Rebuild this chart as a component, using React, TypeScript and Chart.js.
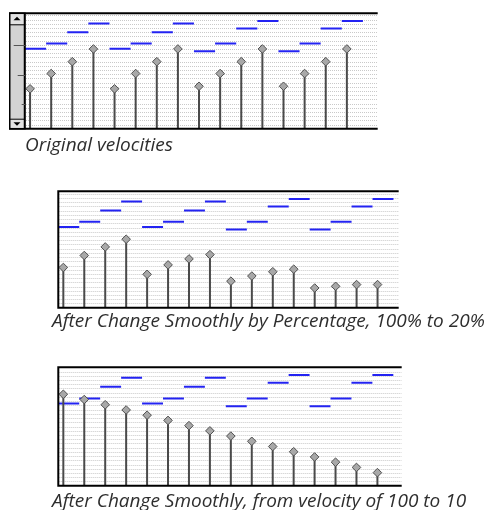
import React, { useEffect, useRef } from "react";
import { Chart, registerables } from "chart.js";

Chart.register(...registerables);

// ---- data ----
const noteStarts = [0, 1, 2, 3, 4, 5, 6, 7, 8, 9, 10, 11, 12, 13, 14, 15];
const notePitches = [70, 72, 76.5, 80, 70, 72, 76.5, 80, 69, 72, 78, 81, 69, 72, 78, 81];
const originalVelocities = [42, 60, 74, 89, 42, 60, 74, 89, 45, 60, 74, 89, 45, 60, 74, 89];
const percentVelocities = [42, 56, 66, 75, 34, 45, 52, 57, 26, 32, 37, 40, 18, 20, 22, 22];
const smoothVelocities = [100, 94, 88, 82, 76, 70, 64, 58, 52, 46, 40, 34, 28, 22, 16, 10];
const captions = [
  "Original velocities",
  "After Change Smoothly by Percentage, 100% to 20%",
  "After Change Smoothly, from velocity of 100 to 10",
];

const STEM_OFFSET = 0.24;
const V_MIN = -5;
const V_MAX = 131;

const gridPlugin = {
  id: "dotgrid",
  beforeDatasetsDraw(chart: any) {
    const { ctx, chartArea: ca } = chart;
    const g = chart.scales.g;
    ctx.save();
    ctx.strokeStyle = "#c9c9c9";
    ctx.lineWidth = 1;
    ctx.setLineDash([1, 1]);
    ctx.beginPath();
    for (let v = 1; v < g.max; v++) {
      const y = Math.round(g.getPixelForValue(v)) + 0.5;
      ctx.moveTo(ca.left + 1, y);
      ctx.lineTo(ca.right, y);
    }
    ctx.stroke();
    ctx.restore();
  },
};

const framePlugin = {
  id: "frame",
  afterDraw(chart: any) {
    const { ctx, chartArea: ca } = chart;
    const opts = chart.options.plugins.frame || {};
    ctx.save();
    ctx.strokeStyle = "#000";
    ctx.lineWidth = 2;
    ctx.beginPath();
    ctx.moveTo(ca.left - (opts.scrollbar ? 16 : 1), ca.top);
    ctx.lineTo(ca.right, ca.top);
    ctx.moveTo(ca.left - (opts.scrollbar ? 16 : 1), ca.bottom);
    ctx.lineTo(ca.right, ca.bottom);
    if (!opts.scrollbar) {
      ctx.moveTo(ca.left, ca.top);
      ctx.lineTo(ca.left, ca.bottom);
    }
    ctx.stroke();
    if (opts.scrollbar) {
      const L = ca.left - 16;
      const R = ca.left;
      const T = ca.top;
      const B = ca.bottom;
      ctx.fillStyle = "#d3d3d3";
      ctx.fillRect(L, T, R - L, B - T);
      ctx.fillStyle = "#e2e2e2";
      ctx.fillRect(L, T, R - L, 11);
      ctx.fillRect(L, B - 10, R - L, 10);
      ctx.lineWidth = 1;
      ctx.strokeStyle = "#000";
      ctx.beginPath();
      ctx.moveTo(L, T + 11.5);
      ctx.lineTo(R, T + 11.5);
      ctx.moveTo(L, B - 9.5);
      ctx.lineTo(R, B - 9.5);
      ctx.stroke();
      ctx.lineWidth = 1.5;
      ctx.strokeRect(L + 0.75, T, R - L - 0.75, B - T);
      ctx.beginPath();
      ctx.moveTo(R - 0.5, T);
      ctx.lineTo(R - 0.5, B);
      ctx.stroke();
      ctx.fillStyle = "#000";
      const cx = L + 8;
      ctx.beginPath();
      ctx.moveTo(cx - 3.5, T + 7);
      ctx.lineTo(cx + 3.5, T + 7);
      ctx.lineTo(cx, T + 3.5);
      ctx.closePath();
      ctx.fill();
      ctx.beginPath();
      ctx.moveTo(cx - 3.5, B - 6.5);
      ctx.lineTo(cx + 3.5, B - 6.5);
      ctx.lineTo(cx, B - 3);
      ctx.closePath();
      ctx.fill();
      ctx.strokeStyle = "#555";
      ctx.lineWidth = 1;
      const marks = [
        [31.8, 11.3],
        [61.2, 7.3],
        [90.5, 3.3],
      ];
      ctx.beginPath();
      marks.forEach(([dy, len]) => {
        ctx.moveTo(R - len, Math.round(T + dy) + 0.5);
        ctx.lineTo(R, Math.round(T + dy) + 0.5);
      });
      ctx.stroke();
    }
    ctx.restore();
  },
};

type PanelProps = {
  velocities: number[];
  left: number;
  top: number;
  width: number;
  height: number;
  padding: { left: number; top: number; right: number; bottom: number };
  xMax: number;
  gridMax: number;
  scrollbar?: boolean;
};

function Panel(props: PanelProps) {
  const ref = useRef<HTMLCanvasElement>(null);
  useEffect(() => {
    const noteData: any[] = [];
    noteStarts.forEach((s, i) => {
      noteData.push({ x: s, y: notePitches[i] }, { x: s + 1, y: notePitches[i] }, { x: s + 1, y: null });
    });
    const stemData: any[] = [];
    noteStarts.forEach((s, i) => {
      const x = s + STEM_OFFSET;
      stemData.push({ x, y: V_MIN }, { x, y: props.velocities[i] }, { x, y: null });
    });
    const heads = noteStarts.map((s, i) => ({ x: s + STEM_OFFSET, y: props.velocities[i] }));
    const chart = new Chart(ref.current as HTMLCanvasElement, {
      type: "line",
      data: {
        datasets: [
          {
            data: noteData,
            yAxisID: "p",
            borderColor: "#2323f2",
            borderWidth: 2,
            pointRadius: 0,
            spanGaps: false,
            order: 3,
          } as any,
          {
            data: stemData,
            yAxisID: "v",
            borderColor: "#4a4a4a",
            borderWidth: 2,
            pointRadius: 0,
            spanGaps: false,
            order: 2,
          },
          {
            type: "scatter",
            data: heads,
            yAxisID: "v",
            pointStyle: "rectRot",
            pointRadius: 4.3,
            backgroundColor: "#a8a8a8",
            borderColor: "#505050",
            borderWidth: 1,
            showLine: false,
            order: 1,
            clip: false,
          },
        ],
      },
      options: {
        animation: false,
        responsive: false,
        maintainAspectRatio: false,
        events: [],
        layout: { padding: props.padding },
        plugins: {
          legend: { display: false },
          tooltip: { enabled: false },
          frame: { scrollbar: !!props.scrollbar },
        } as any,
        scales: {
          x: { type: "linear", axis: "x", min: 0, max: props.xMax, display: false },
          v: { type: "linear", axis: "y", min: V_MIN, max: V_MAX, display: false },
          p: { type: "linear", axis: "y", min: 38.3, max: 84, display: false },
          g: { type: "linear", axis: "y", position: "left", min: 0, max: props.gridMax, display: false },
        },
      } as any,
      plugins: [gridPlugin, framePlugin],
    });
    return () => chart.destroy();
  }, []);
  return (
    <canvas
      ref={ref}
      width={props.width}
      height={props.height}
      style={{ position: "absolute", left: props.left, top: props.top, width: props.width, height: props.height }}
    />
  );
}

const captionStyle: React.CSSProperties = {
  position: "absolute",
  fontFamily: '"Open Sans", sans-serif',
  fontStyle: "italic",
  fontSize: 19,
  lineHeight: "22px",
  color: "#2e2e2e",
  whiteSpace: "nowrap",
};

export default function App() {
  return (
    <div style={{ position: "fixed", left: 0, top: 0, width: 496, height: 510, background: "#fff", overflow: "hidden" }}>
      <Panel
        velocities={originalVelocities}
        left={8}
        top={8}
        width={375}
        height={126}
        padding={{ left: 17, top: 1.5, right: 2, bottom: 2.5 }}
        xMax={16.7}
        gridMax={27.5}
        scrollbar
      />
      <div style={{ ...captionStyle, left: 25, top: 133.3 }}>{captions[0]}</div>
      <Panel
        velocities={percentVelocities}
        left={53}
        top={186}
        width={351}
        height={127}
        padding={{ left: 2.3, top: 2.3, right: 2.3, bottom: 2 }}
        xMax={16.25}
        gridMax={27.6}
      />
      <div style={{ ...captionStyle, left: 52, top: 309.3 }}>{captions[1]}</div>
      <Panel
        velocities={smoothVelocities}
        left={53}
        top={362}
        width={354}
        height={129}
        padding={{ left: 2.3, top: 2.3, right: 2.3, bottom: 2.3 }}
        xMax={16.4}
        gridMax={28}
      />
      <div style={{ ...captionStyle, left: 52, top: 488.9 }}>{captions[2]}</div>
    </div>
  );
}
